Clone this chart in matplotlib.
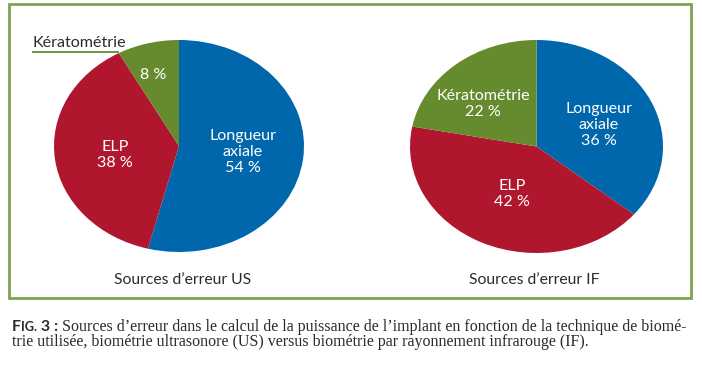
import matplotlib

matplotlib.use("Agg")
import matplotlib.pyplot as plt
from matplotlib.patches import Rectangle

CATEGORIES = ["Longueur axiale", "ELP", "Kératométrie"]
US_VALUES = [54, 38, 8]
IF_VALUES = [36, 42, 22]
COLORS = ["#0067ac", "#b0172f", "#668b2f"]
FRAME_GREEN = "#7ba453"
TEXT = "#2b2b2b"

CAPTION_1 = ("Sources d\u2019erreur dans le calcul de la puissance de l\u2019implant "
             "en fonction de la technique de biom\u00e9-")
CAPTION_2 = ("trie utilis\u00e9e, biom\u00e9trie ultrasonore (US) versus biom\u00e9trie "
             "par rayonnement infrarouge (IF).")

W, H = 702, 370
plt.rcParams["font.family"] = ["Lato", "DejaVu Sans"]

fig = plt.figure(figsize=(W / 100, H / 100), dpi=100)


def px_axes(x0, y0, x1, y1):
    return fig.add_axes([x0 / W, 1 - y1 / H, (x1 - x0) / W, (y1 - y0) / H])


def draw_pie(ax, values):
    ax.pie(values, colors=COLORS, startangle=90, counterclock=False,
           wedgeprops=dict(linewidth=0))
    ax.set_aspect("auto")
    ax.set_xlim(-1, 1)
    ax.set_ylim(-1, 1)
    ax.axis("off")


draw_pie(px_axes(54, 40, 304, 252), US_VALUES)
draw_pie(px_axes(410, 40, 663, 253), IF_VALUES)

# overlay in pixel coordinates for frame and texts
ov = fig.add_axes([0, 0, 1, 1], zorder=-1)
ov.set_xlim(0, W)
ov.set_ylim(H, 0)
ov.axis("off")
ov2 = fig.add_axes([0, 0, 1, 1], zorder=5)
ov2.set_xlim(0, W)
ov2.set_ylim(H, 0)
ov2.axis("off")
ov2.patch.set_alpha(0)

ov.add_patch(Rectangle((9, 4), 682, 294, fill=False, edgecolor=FRAME_GREEN, linewidth=2))

lab = dict(fontsize=11.6, color="white", ha="center", va="center", linespacing=1.2)
ov2.text(153, 75, "8 %", **lab)
ov2.text(115, 155, "ELP\n38 %", **lab)
ov2.text(243, 152, "Longueur\naxiale\n54 %", **lab)
ov2.text(483, 104, "Kératométrie\n22 %", **lab)
ov2.text(599, 125, "Longueur\naxiale\n36 %", **lab)
ov2.text(512, 194, "ELP\n42 %", **lab)

ov2.text(33, 43, "Kératométrie", fontsize=11.6, color=TEXT, ha="left", va="center")
ov2.plot([33, 118], [52, 52], color=COLORS[2], linewidth=1.3)

ov2.text(183, 280, "Sources d\u2019erreur US", fontsize=11.3, color=TEXT, ha="center", va="center")
ov2.text(534, 280, "Sources d\u2019erreur IF", fontsize=11.3, color=TEXT, ha="center", va="center")

cap = dict(family=["Liberation Serif", "DejaVu Serif"], color=TEXT, va="baseline")
head = dict(color=TEXT, va="baseline", fontweight="bold")
cs = 11.5
y1, y2 = 331, 346
t1 = ov2.text(12, y1, "F", fontsize=cs, **head)
t2 = ov2.annotate("IG.", xy=(1, y1), xycoords=(t1, "data"), fontsize=cs * 0.8, **head)
t3 = ov2.annotate(" 3 :", xy=(1, y1), xycoords=(t2, "data"), fontsize=cs, **head)
ov2.annotate(" " + CAPTION_1, xy=(1, y1), xycoords=(t3, "data"), fontsize=cs, **cap)
ov2.text(12, y2, CAPTION_2, fontsize=cs, **cap)

fig.savefig("out.png", dpi=100)
